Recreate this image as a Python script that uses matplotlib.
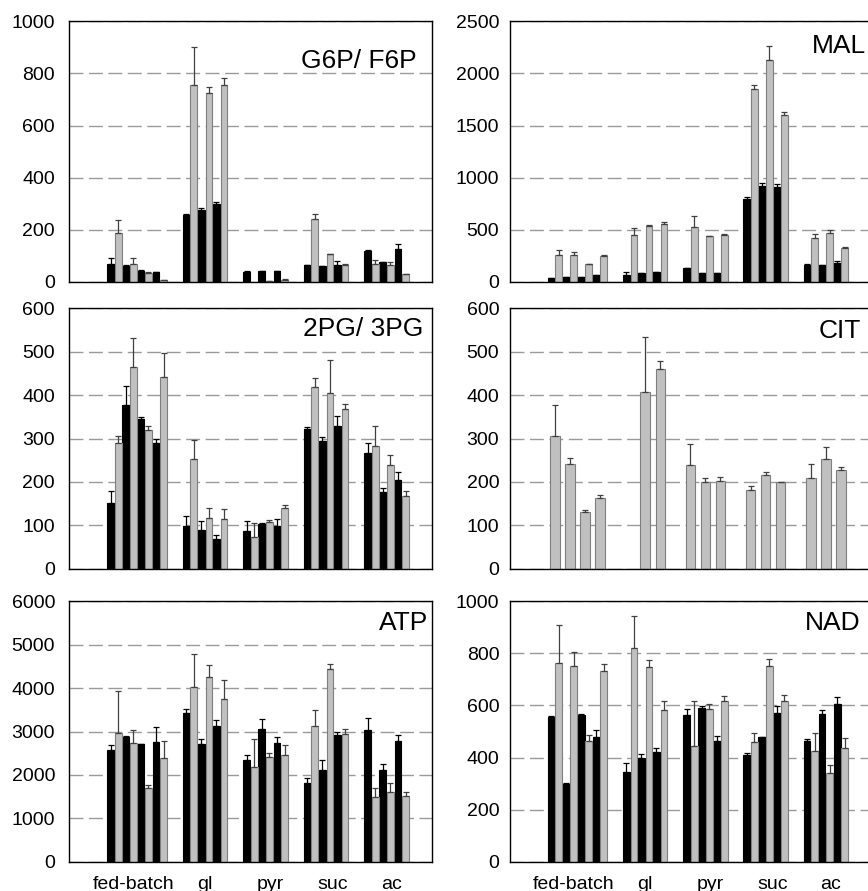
"""Six-panel metabolite bar chart: black/gray pairs per condition, grouped by carbon source."""

import matplotlib

matplotlib.use("Agg")
import matplotlib.pyplot as plt
import numpy as np

plt.rcParams["font.family"] = ["Liberation Sans", "DejaVu Sans"]

GROUPS = ["fed-batch", "gl", "pyr", "suc", "ac"]

# One inner list per group; fed-batch has four conditions, the other media three.
# None marks a bar that is absent in the original.
G6P_BLACK = [[70, 61, 41, 36], [257, 275, 298], [38, 40, 41], [63, 60, 66], [119, 75, 127]]
G6P_BLACK_ERR = [[22, 2, 3, 2], [5, 8, 10], [3, 2, 2], [1, 1, 12], [4, 1, 17]]
G6P_GRAY = [[189, 69, 33, 7], [754, 725, 754], [None, 3, 8], [240, 106, 65], [70, 65, 29]]
G6P_GRAY_ERR = [[49, 21, 3, 1], [146, 23, 29], [0, 0, 2], [22, 2, 3], [13, 12, 1]]

MAL_BLACK = [[40, 50, 50, 61], [63, 80, 98], [128, 88, 85], [796, 921, 911], [158, 157, 179]]
MAL_BLACK_ERR = [[0, 0, 0, 0], [26, 0, 0], [0, 0, 0], [16, 25, 29], [14, 0, 20]]
MAL_GRAY = [[259, 259, 170, 245], [444, 537, 553], [524, 440, 451], [1854, 2132, 1605], [418, 470, 326]]
MAL_GRAY_ERR = [[42, 31, 4, 15], [68, 6, 22], [109, 3, 8], [39, 131, 22], [44, 28, 3]]

PG_BLACK = [[151, 378, 344, 289], [99, 89, 69], [88, 103, 99], [321, 294, 330], [267, 176, 205]]
PG_BLACK_ERR = [[29, 42, 6, 9], [22, 20, 8], [21, 3, 16], [6, 9, 21], [22, 10, 19]]
PG_GRAY = [[290, 465, 320, 442], [252, 116, 114], [74, 108, 140], [418, 404, 368], [283, 240, 167]]
PG_GRAY_ERR = [[17, 67, 10, 56], [44, 23, 23], [31, 4, 6], [21, 77, 11], [47, 23, 12]]

# CIT was only measured for one series, so its bars sit on the pair centres.
CIT_GRAY = [[307, 242, 131, 163], [None, 408, 461], [238, 200, 202], [182, 216, 200], [209, 253, 227]]
CIT_GRAY_ERR = [[70, 14, 5, 6], [0, 126, 17], [49, 10, 9], [8, 8, 1], [32, 27, 8]]

ATP_BLACK = [[2570, 2877, 2715, 2769], [3431, 2715, 3138], [2346, 3054, 2746], [1823, 2108, 2931], [3031, 2123, 2792]]
ATP_BLACK_ERR = [[115, 31, 0, 346], [77, 108, 116], [116, 231, 139], [100, 238, 54], [269, 131, 139]]
ATP_GRAY = [[2977, 2731, 1692, 2385], [4023, 4254, 3746], [2177, 2408, 2469], [3123, 4438, 2954], [1485, 1600, 1508]]
ATP_GRAY_ERR = [[946, 300, 85, 407], [762, 269, 446], [646, 92, 231], [362, 116, 115], [223, 223, 92]]

NAD_BLACK = [[555, 300, 562, 477], [346, 400, 421], [565, 592, 463], [410, 479, 572], [462, 567, 606]]
NAD_BLACK_ERR = [[3, 3, 5, 28], [32, 12, 17], [21, 5, 20], [9, 0, 25], [9, 14, 25]]
NAD_GRAY = [[764, 751, 463, 731], [821, 746, 582], [444, 588, 617], [459, 750, 617], [424, 342, 436]]
NAD_GRAY_ERR = [[145, 55, 25, 28], [124, 28, 35], [175, 16, 20], [37, 29, 25], [72, 31, 40]]

# Layout, in bar slots: empty lead-in, then pairs, with a two-slot gap between groups.
FIRST_SLOT = 5
GROUP_GAP = 2
X_MAX = 48
BAR_W = 0.9
WIDE_W = 1.25
LABEL_SHIFT = [-0.5, -0.1, 0.6, 0.9, 0.6]

BLACK = "#000000"
GRAY = "#c0c0c0"
GRAY_EDGE = "#7f7f7f"
GRID = "#9a9a9a"


def group_starts(pairs_per_group):
    starts, x = [], FIRST_SLOT
    for n in pairs_per_group:
        starts.append(x)
        x += 2 * n + GROUP_GAP
    return starts


def collect(values, errs, starts, offset):
    xs, hs, es = [], [], []
    for start, vals, errs_g in zip(starts, values, errs):
        for i, (v, e) in enumerate(zip(vals, errs_g)):
            if v is None:
                continue
            xs.append(start + 2 * i + offset)
            hs.append(v)
            es.append(e)
    return np.array(xs), np.array(hs, float), np.array(es, float)


def draw_series(ax, xs, hs, es, width, color, edge, ecolor):
    ax.bar(xs, hs, width=width, color=color, edgecolor=edge, linewidth=0.8, zorder=2)
    ax.errorbar(xs, hs, yerr=[np.zeros_like(es), es], fmt="none", ecolor=ecolor,
                elinewidth=0.9, capsize=2.2, capthick=0.9, zorder=3)


def draw_panel(ax, title, ymax, ystep, black, black_err, gray, gray_err, title_xy, ypad, show_x):
    starts = group_starts([len(g) for g in gray])
    if black is not None:
        draw_series(ax, *collect(black, black_err, starts, 0.5), BAR_W, BLACK, BLACK, BLACK)
        draw_series(ax, *collect(gray, gray_err, starts, 1.5), BAR_W, GRAY, GRAY_EDGE, "#404040")
    else:
        draw_series(ax, *collect(gray, gray_err, starts, 1.0), WIDE_W, GRAY, GRAY_EDGE, "#404040")

    ax.set_xlim(0, X_MAX)
    ax.set_ylim(0, ymax)
    ax.set_yticks(np.arange(0, ymax + 1, ystep))
    centers = [s + len(g) + sh for s, g, sh in zip(starts, gray, LABEL_SHIFT)]
    ax.set_xticks(centers)
    ax.set_xticklabels(GROUPS)
    ax.tick_params(axis="y", length=0, pad=ypad, labelsize=14)
    ax.tick_params(axis="x", length=0, pad=10, labelsize=14, labelbottom=show_x)
    ax.set_axisbelow(True)
    ax.yaxis.grid(True, color=GRID, linestyle=(0, (10, 4)), linewidth=1.0)
    for sp in ax.spines.values():
        sp.set_linewidth(1.0)
        sp.set_color("black")
    ax.text(title_xy[0], title_xy[1], title, transform=ax.transAxes,
            ha="right", va="baseline", fontsize=19)


def main():
    fig = plt.figure(figsize=(8.68, 8.91), dpi=100)
    rows = [0.6838, 0.3617, 0.0329]
    h = 0.2922
    left_x, left_w = 0.0795, 0.4182
    right_x, right_w = 0.5872, 0.4163

    ax = fig.add_axes([left_x, rows[0], left_w, h])
    draw_panel(ax, "G6P/ F6P", 1000, 200, G6P_BLACK, G6P_BLACK_ERR, G6P_GRAY, G6P_GRAY_ERR,
               (0.959, 0.82), 10, False)
    ax = fig.add_axes([right_x, rows[0], right_w, h])
    draw_panel(ax, "MAL", 2500, 500, MAL_BLACK, MAL_BLACK_ERR, MAL_GRAY, MAL_GRAY_ERR,
               (0.986, 0.878), 7.5, False)
    ax = fig.add_axes([left_x, rows[1], left_w, h])
    draw_panel(ax, "2PG/ 3PG", 600, 100, PG_BLACK, PG_BLACK_ERR, PG_GRAY, PG_GRAY_ERR,
               (0.975, 0.893), 10, False)
    ax = fig.add_axes([right_x, rows[1], right_w, h])
    draw_panel(ax, "CIT", 600, 100, None, None, CIT_GRAY, CIT_GRAY_ERR,
               (0.973, 0.885), 7.5, False)
    ax = fig.add_axes([left_x, rows[2], left_w, h])
    draw_panel(ax, "ATP", 6000, 1000, ATP_BLACK, ATP_BLACK_ERR, ATP_GRAY, ATP_GRAY_ERR,
               (0.99, 0.888), 10, True)
    ax = fig.add_axes([right_x, rows[2], right_w, h])
    draw_panel(ax, "NAD", 1000, 200, NAD_BLACK, NAD_BLACK_ERR, NAD_GRAY, NAD_GRAY_ERR,
               (0.971, 0.89), 7.5, True)

    fig.savefig("out.png", dpi=100)


if __name__ == "__main__":
    main()
